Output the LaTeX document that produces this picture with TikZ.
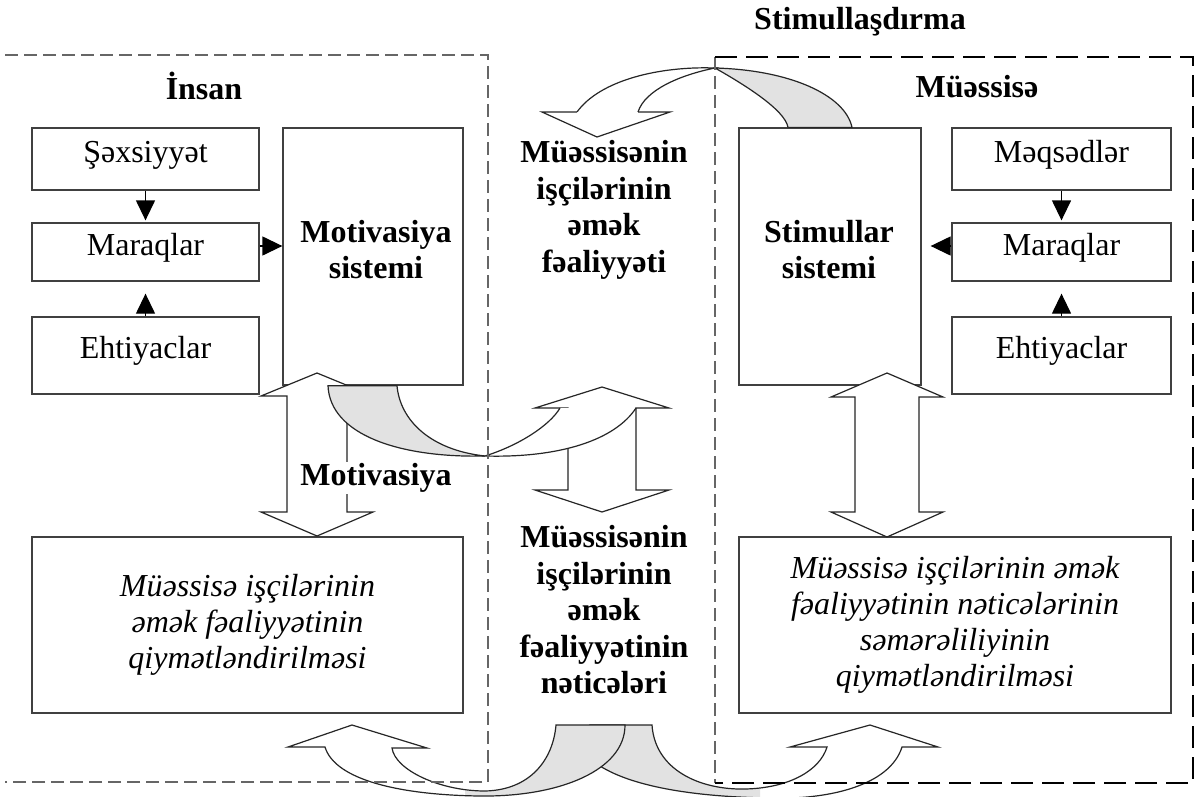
\documentclass[tikz,border=0pt]{standalone}
\usepackage{fontspec}
\setmainfont{Liberation Serif}
\usetikzlibrary{arrows.meta,positioning}
\definecolor{ribgrey}{HTML}{E2E2E2}
\tikzset{
  itembox/.style={draw=black!75,line width=1.3pt,inner sep=0pt,text height=22pt,text depth=16pt,
    font=\fontsize{32}{36}\selectfont},
  sysbox/.style={draw=black!75,line width=1.3pt,inner sep=0pt},
  evalbox/.style={draw=black!75,line width=1.3pt,inner sep=0pt,align=center,
    font=\fontsize{32}{36}\selectfont\itshape},
  boldlbl/.style={align=center,inner sep=1pt,font=\fontsize{32}{36.5}\selectfont\bfseries},
  smallarr/.style={-{Triangle[length=20pt,width=19pt]},line width=1.3pt},
  hollowarr/.style={draw=black!85,line width=1.2pt,fill=white,line join=miter},
  ribbonline/.style={draw=black!85,line width=1.2pt},
  frameL/.style={draw=black!60,line width=1.6pt,dash pattern=on 13pt off 6pt},
  frameR/.style={draw=black,line width=2.6pt,dash pattern=on 22pt off 9pt},
}
% hollow double arrow: x, top tip, top base, bottom base, bottom tip, shaft half, head half
\newcommand{\hollowdbl}[7]{%
  \draw[hollowarr] (#1-#6,#3) -- (#1-#7,#3) -- (#1,#2) -- (#1+#7,#3) -- (#1+#6,#3)
    -- (#1+#6,#4) -- (#1+#7,#4) -- (#1,#5) -- (#1-#7,#4) -- (#1-#6,#4) -- cycle;}

\begin{document}
\begin{tikzpicture}[x=1pt,y=-1pt]
\path[use as bounding box,fill=white] (0,0) rectangle (1196,796);
% Insan
\node (sexsL) [itembox,minimum width=227pt,minimum height=62pt] at (145.5,159) {Şəxsiyyət};
\node (marL) [itembox,minimum width=227pt,minimum height=58pt] at (145.5,252) {Maraqlar};
\node (ehtL) [itembox,minimum width=227pt,minimum height=77pt] at (145.5,355.5) {Ehtiyaclar};
\node (motsys) [sysbox,minimum width=180pt,minimum height=257pt] at (373,256.5) {};
\node (evalL) [evalbox,minimum width=431pt,minimum height=176pt] at (247.5,625)
  {Müəssisə işçilərinin\\əmək fəaliyyətinin\\qiymətləndirilməsi};
% Muessise
\node (meqs) [itembox,minimum width=219pt,minimum height=62pt] at (1061.5,159) {Məqsədlər};
\node (marR) [itembox,minimum width=219pt,minimum height=58pt] at (1061.5,252) {Maraqlar};
\node (ehtR) [itembox,minimum width=219pt,minimum height=77pt] at (1061.5,355.5) {Ehtiyaclar};
\node (stimsys) [sysbox,minimum width=182pt,minimum height=257pt] at (830,256.5) {};
\node (evalR) [evalbox,minimum width=432pt,minimum height=176pt] at (955,625)
  {Müəssisə işçilərinin əmək\\fəaliyyətinin nəticələrinin\\səmərəliliyinin\\qiymətləndirilməsi};
%
\node (motlbl) [boldlbl,font=\fontsize{32}{36}\selectfont\bfseries] at (376,250) {Motivasiya\\sistemi};
\node (stimlbl) [boldlbl,font=\fontsize{32}{36}\selectfont\bfseries] at (829,250) {Stimullar\\sistemi};
%
\draw[smallarr,shorten >=2pt] (sexsL.south) -- (marL.north);
\draw[smallarr,shorten >=12pt] (ehtL.north) -- (marL.south);
\draw[smallarr] ([yshift=6pt]marL.east) -- ([yshift=6pt]marL.east -| motsys.west);
\draw[smallarr,shorten >=2pt] (meqs.south) -- (marR.north);
\draw[smallarr,shorten >=12pt] (ehtR.north) -- (marR.south);
\draw[smallarr,shorten >=9pt] ([yshift=6pt]marR.west) -- ([yshift=6pt]marR.west -| stimsys.east);
%
\hollowdbl{317}{373}{396}{512}{536}{30}{56}
\hollowdbl{887}{373}{397}{512}{537}{32}{56}
\hollowdbl{602}{387}{408}{490}{512}{34}{67}
% motivasiya ribbon
\filldraw[ribbonline,fill=ribgrey] ([xshift=-45pt]motsys.south) .. controls (330,435) and (400,458) .. (485,456)
  .. controls (430,450) and (400,420) .. ([xshift=24pt]motsys.south) -- cycle;
\draw[ribbonline,fill=white] (560,408) .. controls (550,425) and (520,445) .. (485,456)
  .. controls (560,458) and (615,440) .. (636,408);
% stimullasdirma ribbon
\filldraw[ribbonline,fill=ribgrey] ([xshift=22pt]stimsys.north) .. controls (845,95) and (790,70) .. (715,68)
  .. controls (745,85) and (785,110) .. ([xshift=-42pt]stimsys.north) -- cycle;
\draw[ribbonline,fill=white] (577,112) .. controls (600,80) and (660,66) .. (715,68)
  .. controls (680,75) and (645,90) .. (638,112);
\draw[ribbonline,fill=white] (577,112) -- (542,112) -- (597,137) -- (670,112) -- (638,112);
% bottom ribbons
\def\ribR{(652,725) .. controls (655,770) and (700,790) .. (745,789)
  .. controls (790,788) and (820,770) .. (827,747) -- (790,747) -- (870,725) -- (938,747) -- (902,747)
  .. controls (890,785) and (830,800) .. (770,798)
  .. controls (700,797) and (635,788) .. (600,766) -- (590,725) -- cycle}
\def\ribL{(556,725) -- (625,725) .. controls (625,770) and (560,797) .. (480,796)
  .. controls (400,795) and (335,780) .. (325,747) -- (288,747) -- (352,725) -- (427,748) -- (392,748)
  .. controls (395,770) and (440,791) .. (485,791)
  .. controls (530,790) and (553,760) .. (556,725) -- cycle}
\fill[white] \ribR;
\begin{scope}
  \clip (465,700) rectangle (760,800);
  \fill[ribgrey] \ribR;
\end{scope}
\draw[ribbonline] \ribR;
\fill[white] \ribL;
\begin{scope}
  \clip (465,700) rectangle (760,800);
  \fill[ribgrey] \ribL;
\end{scope}
\draw[ribbonline] \ribL;
%
\node (motiv) [boldlbl,fill=white] at (376,478) {Motivasiya};
% frames
\draw[frameL] (5,55) -- (488,55) -- (488,782) -- (5,782);
\draw[frameL] (715,57) -- (715,783);
\draw[frameR] (715,57) -- (1193,57) -- (1193,783) -- (715,783);
%
\node (insan) [boldlbl] at (204,86) {İnsan};
\node (muessise) [boldlbl] at (977,87) {Müəssisə};
\node (stimul) [boldlbl] at (860,22) {Stimullaşdırma};
\node (faal) [boldlbl] at (604,210) {Müəssisənin\\işçilərinin\\əmək\\fəaliyyəti};
\node (netice) [boldlbl] at (604,610) {Müəssisənin\\işçilərinin\\əmək\\fəaliyyətinin\\nəticələri};
\end{tikzpicture}
\end{document}
